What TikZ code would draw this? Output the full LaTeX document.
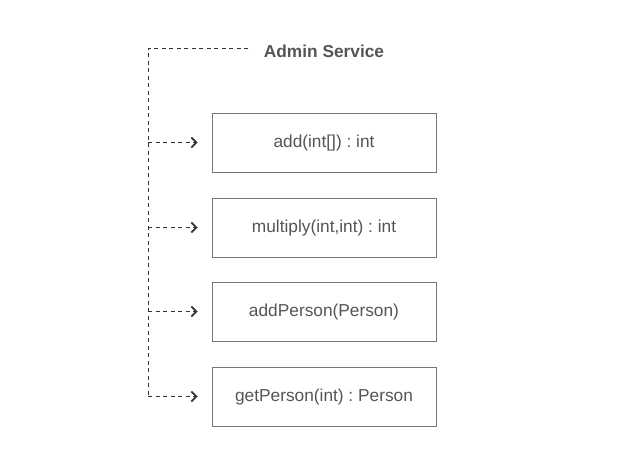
\documentclass[tikz,border=0pt]{standalone}
\usepackage{fontspec}
\setmainfont{Liberation Sans}
\usetikzlibrary{arrows.meta}
\definecolor{txt}{HTML}{555555}
\definecolor{bx}{HTML}{777777}
\definecolor{ln}{HTML}{333333}
\frenchspacing
\begin{document}
\begin{tikzpicture}[x=1pt,y=-1pt,
  method/.style={draw=bx,line width=0.8pt,minimum width=224pt,minimum height=59pt,inner sep=0pt,text=txt,font=\fontsize{17.3}{19}\selectfont,text height=1.1em,text depth=0.2em},
  conn/.style={draw=ln,line width=0.9pt,dash pattern=on 4pt off 3.5pt},
  arr/.style={conn,-{Straight Barb[length=5pt,width=10pt,line width=1.8pt]}}]
\useasboundingbox (0,0) rectangle (628,474);
\node[text=txt,font=\fontsize{17.3}{19}\selectfont\bfseries] (title) at (324,51) {Admin Service};
\node[method] (m1) at (324,142.5) {add(int[]) : int};
\node[method] (m2) at (324,227.5) {multiply(int,int) : int};
\node[method] (m3) at (324,311.5) {addPerson(Person)};
\node[method] (m4) at (324,396.5) {getPerson(int) : Person};
\coordinate (tl) at (148,48);
\coordinate (te) at (248,48);
\coordinate (b1) at (148,142.5);
\coordinate (b2) at (148,227.5);
\coordinate (b3) at (148,311.5);
\coordinate (b4) at (148,396.5);
\draw[conn] (te) -- (tl) -- (b4);
\draw[arr] (b1) -- ([xshift=-14pt]m1.west);
\draw[arr] (b2) -- ([xshift=-14pt]m2.west);
\draw[arr] (b3) -- ([xshift=-14pt]m3.west);
\draw[arr] (b4) -- ([xshift=-14pt]m4.west);
\end{tikzpicture}
\end{document}
